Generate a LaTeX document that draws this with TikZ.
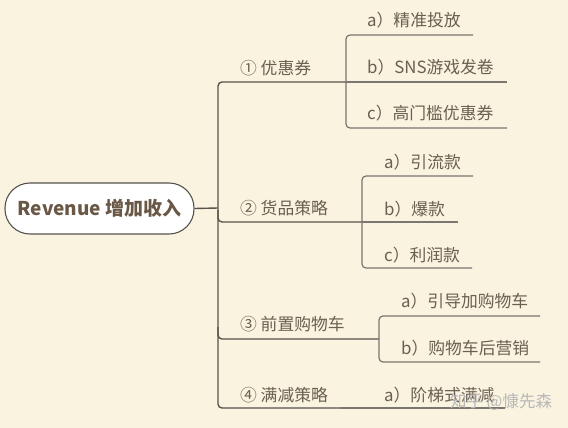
\documentclass[tikz,border=0pt]{standalone}
\usepackage{fontspec}
\setmainfont{Noto Sans CJK SC}
\definecolor{bgc}{HTML}{FAF3E0}
\definecolor{txt}{HTML}{6B5F50}
\definecolor{mainline}{HTML}{57534E}
\definecolor{subline}{HTML}{7A7670}
\definecolor{roottxt}{HTML}{6A5846}
\tikzset{
  lbl/.style={anchor=west, inner sep=0pt, text=txt, font=\fontsize{16.8}{19}\selectfont},
  rootnode/.style={draw=mainline, fill=white, line width=1.1pt, rounded corners=25pt,
    minimum width=189pt, minimum height=51pt, text=roottxt, font=\fontsize{19}{22}\selectfont\bfseries},
  mainl/.style={draw=mainline, line width=1.4pt, rounded corners=4pt},
  subl/.style={draw=subline, line width=1.2pt, rounded corners=4pt},
  wmark/.style={anchor=west, inner sep=0pt, text=white!72!black, font=\fontsize{16.5}{20}\selectfont},
}
\begin{document}
\begin{tikzpicture}[x=1pt,y=-1pt]
\fill[bgc] (0,0) rectangle (568,428);
\useasboundingbox (0,0) rectangle (568,428);

% root
\node[rootnode] (root) at (99.5,208.5) {Revenue 增加收入};

% trunk coordinates
\coordinate (J) at (218,208);
\coordinate (T1) at (218,82);
\coordinate (T2) at (218,222);
\coordinate (T3) at (218,339);
\coordinate (T4) at (218,408);
\coordinate (S1) at (346,82);
\coordinate (S2) at (362,222);
\coordinate (S3) at (379,339);
\coordinate (S4) at (340,408);

\draw[mainl] (root.east) -- (J);
\draw[mainl] (S1) -- (T1) -- (T4) -- (S4);
\draw[mainl] (218,210) -- (T2) -- (S2);
\draw[mainl] (218,327) -- (T3) -- (S3);

% branch labels
\node[lbl] (b1) at (240,68) {① 优惠券};
\node[lbl] (b2) at (240,208) {② 货品策略};
\node[lbl] (b3) at (240,324) {③ 前置购物车};
\node[lbl] (b4) at (240,395) {④ 满减策略};

% sub branch 1
\coordinate (A1) at (346,35);
\coordinate (C1) at (346,128);
\draw[subl] (473,35) -- (A1) -- (C1) -- (507,128);
\draw[subl] (S1) -- (507,82);
\node[lbl] (a1) at (367,20) {a）精准投放};
\node[lbl] (bb1) at (367,67) {b）SNS游戏发卷};
\node[lbl] (c1) at (367,113) {c）高门槛优惠券};

% sub branch 2
\coordinate (A2) at (362,176);
\coordinate (C2) at (362,268);
\draw[subl] (473,176) -- (A2) -- (C2) -- (472,268);
\draw[subl] (S2) -- (458,222);
\node[lbl] (a2) at (384,162) {a）引流款};
\node[lbl] (bb2) at (384,209) {b）爆款};
\node[lbl] (c2) at (384,255) {c）利润款};

% sub branch 3
\coordinate (A3) at (379,316);
\coordinate (B3) at (379,362);
\draw[subl] (540,316) -- (A3) -- (B3) -- (540,362);
\node[lbl] (a3) at (401,301) {a）引导加购物车};
\node[lbl] (bb3) at (401,348) {b）购物车后营销};

% sub branch 4
\draw[subl] (S4) -- (505,408);
\node[lbl] (a4) at (384,395) {a）阶梯式满减};

% watermark
\node[wmark] (wm) at (450,402) {知乎 @慷先森};
\end{tikzpicture}
\end{document}
